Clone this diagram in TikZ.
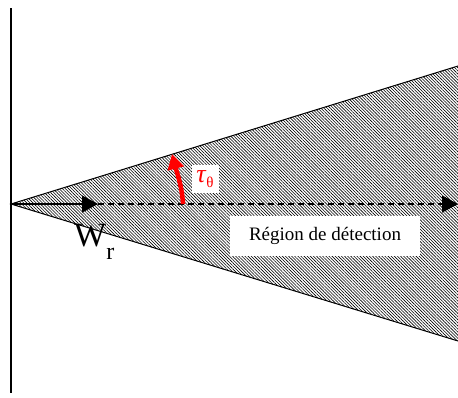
\documentclass[tikz,border=0pt]{standalone}
\usepackage{fontspec}
\setmainfont{Liberation Serif}
\usetikzlibrary{arrows.meta,patterns.meta}
\begin{document}
\begin{tikzpicture}[x=1pt,y=-1pt,
  edge/.style={line width=1pt,black},
  hatch/.style={pattern={Lines[angle=-45,distance=2.2pt,line width=0.6pt]}},
  tip/.style={-{Triangle[length=16pt,width=17pt]}},
]
\useasboundingbox (0,0) rectangle (458,397);
% coordinates
\coordinate (apex) at (11,204);
\coordinate (tr) at (458,66);
\coordinate (br) at (458,341);
\coordinate (top) at (11,8);
\coordinate (bot) at (11,393);
\coordinate (mid) at (98,204);
\coordinate (end) at (458,204);
\coordinate (rs) at (183,204);
\coordinate (rt) at (172,154);
% region
\fill[white] (apex) -- (tr) -- (br) -- cycle;
\fill[hatch] (apex) -- (tr) -- (br) -- cycle;
\draw[edge] (tr) -- (apex) -- (br);
% vertical axis
\draw[line width=1.3pt] (top) -- (bot);
% arrows along the axis
\draw[line width=1.3pt,tip] (apex) -- (mid);
\draw[line width=1.3pt,dash pattern=on 6pt off 4pt,tip] (mid) -- (end);
% labels
\node[fill=white,minimum width=190pt,minimum height=40pt,inner sep=0pt,font=\fontsize{19}{19}\selectfont] (reg) at (325,236) {Région de détection};
\node[anchor=base west,inner sep=0pt,font=\fontsize{34}{34}\selectfont] (wr) at (74,246) {W\raisebox{-13pt}{\fontsize{24}{24}\selectfont r}};
\node[fill=white,text=red,minimum width=27pt,minimum height=28pt,inner sep=0pt] (tau) at (205,179) {\fontsize{26}{26}\selectfont\textit{τ}\raisebox{-5pt}{\fontsize{15}{15}\selectfont θ}};
% red arrow
\draw[red,line width=4.5pt,-{Triangle[length=15pt,width=16pt]}] (rs) .. controls (182,186) and (177,173) .. (rt);
\end{tikzpicture}
\end{document}
